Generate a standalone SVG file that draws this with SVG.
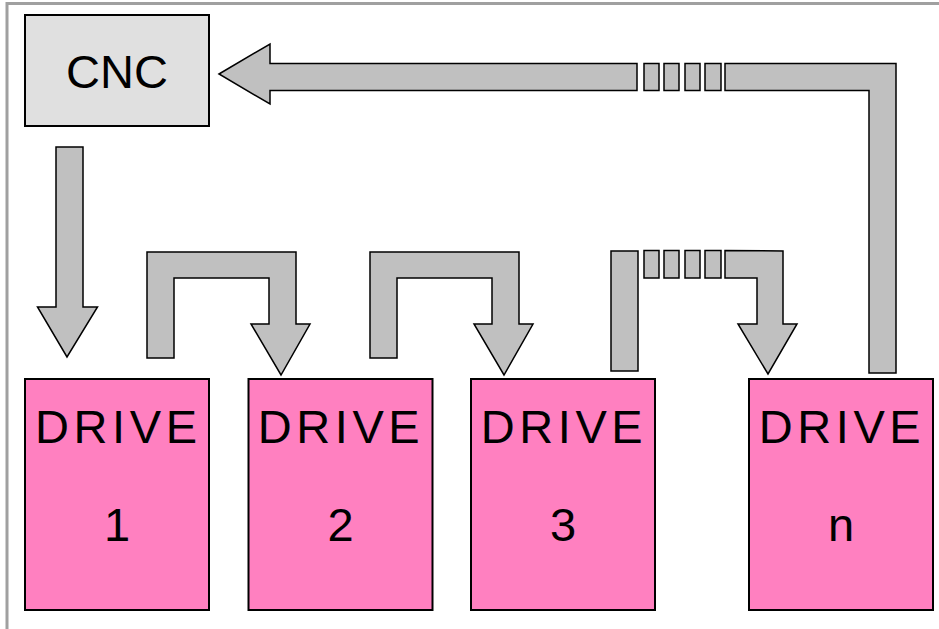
<svg xmlns="http://www.w3.org/2000/svg" width="939" height="629" viewBox="0 0 939 629">
<style>
.frame{stroke:#a0a0a0;stroke-width:3;fill:none}
.conn{fill:#c0c0c0;stroke:#000;stroke-width:1.5;stroke-linejoin:miter}
.cnc{fill:#e0e0e0;stroke:#000;stroke-width:2}
.drive{fill:#ff80c0;stroke:#000;stroke-width:2}
.t{font-family:"Liberation Sans",Arial,sans-serif;font-size:47px;fill:#000;text-anchor:middle}
.dr{letter-spacing:4.6px}
</style>
<rect width="939" height="629" fill="#fff"/>
<path class="frame" d="M7 629 V3.5 H939"/>
<g id="connectors">
<polygon class="conn" points="219,74 270,44 270,63.5 637,63.5 637,90.5 270,90.5 270,104"/>
<rect class="conn" x="644" y="63.5" width="15" height="27"/>
<rect class="conn" x="664" y="63.5" width="15" height="27"/>
<rect class="conn" x="685" y="63.5" width="15" height="27"/>
<rect class="conn" x="705" y="63.5" width="16" height="27"/>
<polygon class="conn" points="725,63.5 896,63.5 896,373 869,373 869,90.5 725,90.5"/>
<polygon class="conn" points="56,147 83,147 83,307 97.5,307 67,357 37.5,307 56,307"/>
<polygon class="conn" points="147,252 296,252 296,324 310,324 281,375 251,324 269,324 269,278 174,278 174,358 147,358"/>
<polygon class="conn" points="370,252 519,252 519,324 533,324 504,375 474,324 492,324 492,278 397,278 397,358 370,358"/>
<rect class="conn" x="611" y="251" width="27" height="120"/>
<rect class="conn" x="644" y="250.5" width="15" height="27.5"/>
<rect class="conn" x="664" y="250.5" width="15" height="27.5"/>
<rect class="conn" x="685" y="250.5" width="15" height="27.5"/>
<rect class="conn" x="705" y="250.5" width="16" height="27.5"/>
<polygon class="conn" points="725,250.5 783,251 783,324 797,324 768,374 738,324 757,324 757,278 725,278"/>
</g>
<g id="cnc">
<rect class="cnc" x="25" y="15" width="184" height="111"/>
<text class="t" x="117" y="88">CNC</text>
</g>
<g id="drive1">
<rect class="drive" x="25" y="379" width="184" height="231"/>
<text class="t dr" x="118.3" y="443">DRIVE</text>
<text class="t" x="117" y="541">1</text>
</g>
<g id="drive2">
<rect class="drive" x="248.5" y="379" width="184" height="231"/>
<text class="t dr" x="341" y="443">DRIVE</text>
<text class="t" x="340.5" y="541">2</text>
</g>
<g id="drive3">
<rect class="drive" x="471" y="379" width="184" height="231"/>
<text class="t dr" x="564" y="443">DRIVE</text>
<text class="t" x="563" y="541">3</text>
</g>
<g id="driven">
<rect class="drive" x="749" y="379" width="184" height="231"/>
<text class="t dr" x="842" y="443">DRIVE</text>
<text class="t" x="841" y="541">n</text>
</g>
</svg>
